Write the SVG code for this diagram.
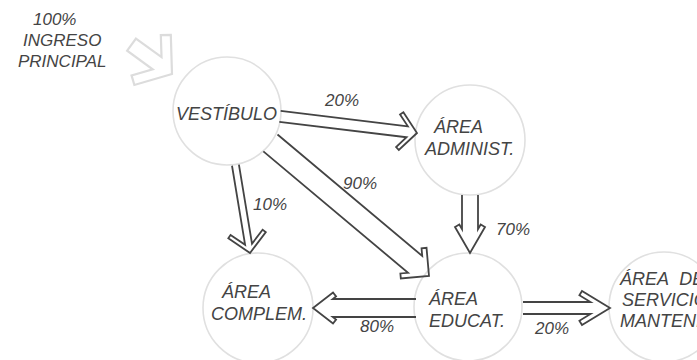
<svg xmlns="http://www.w3.org/2000/svg" width="697" height="360" viewBox="0 0 697 360">
<style>
.node{fill:#ffffff;stroke:#e0e0e0;stroke-width:1.6}
.t{font-family:"Liberation Sans",Arial,sans-serif;font-style:italic;fill:#444444;font-size:18px}
.p{font-family:"Liberation Sans",Arial,sans-serif;font-style:italic;fill:#444444;font-size:17px}
.arr{fill:none;stroke:#444444;stroke-width:1.8;stroke-linejoin:miter}
.entry{fill:none;stroke:#dcdcdc;stroke-width:2.2;stroke-linejoin:miter}
</style>
<rect width="697" height="360" fill="#ffffff"/>
<g id="vestibulo">
<circle class="node" cx="227" cy="111" r="54"/>
<text class="t" x="176" y="120">VESTÍBULO</text>
</g>
<g id="admin">
<circle class="node" cx="470" cy="140" r="55"/>
<text class="t" x="434" y="133">ÁREA</text>
<text class="t" x="425" y="155">ADMINIST.</text>
</g>
<g id="complem">
<circle class="node" cx="258" cy="308" r="55"/>
<text class="t" x="222" y="298">ÁREA</text>
<text class="t" x="211" y="320">COMPLEM.</text>
</g>
<g id="educat">
<circle class="node" cx="468" cy="307" r="54"/>
<text class="t" x="429" y="305">ÁREA</text>
<text class="t" x="429" y="327">EDUCAT.</text>
</g>
<g id="servicio">
<circle class="node" cx="664" cy="307" r="55"/>
<text class="t" x="620" y="285" word-spacing="6">ÁREA DE</text>
<text class="t" x="622" y="306">SERVICIO</text>
<text class="t" x="620" y="327">MANTENIM.</text>
</g>
<g id="ingreso">
<text class="p" x="33" y="25">100%</text>
<text class="p" x="23" y="46">INGRESO</text>
<text class="p" x="18" y="67">PRINCIPAL</text>
</g>
<g id="connectors">
<path class="entry" transform="translate(172,74) rotate(36)" d="M-50,-7.5 L-18.4,-7.5 L-31.9,-24.9 L-24,-31 L0,0 L-24,31 L-31.9,24.9 L-18.4,7.5 L-50,7.5 Z"/>
<path class="arr" transform="translate(417,133) rotate(6.9)" d="M-138,-5.5 L-9.86,-5.5 L-19.06,-16.42 L-16,-19 L0,0 L-16,19 L-19.06,16.42 L-9.86,5.5 L-138,5.5"/>
<path class="arr" transform="translate(250,253) rotate(80.6)" d="M-89,-3.5 L-8.82,-3.5 L-20.9,-16.25 L-18,-19 L0,0 L-18,19 L-20.9,16.25 L-8.82,3.5 L-89,3.5"/>
<path class="arr" transform="translate(429,276) rotate(40)" d="M-207,-11 L-18.08,-11 L-23.54,-16.46 L-20,-20 L0,0 L-20,20 L-23.54,16.46 L-18.08,11 L-207,11"/>
<path class="arr" transform="translate(470,253) rotate(90)" d="M-58,-8 L-23.87,-8 L-28.5,-10.67 L-26,-15 L0,0 L-26,15 L-28.5,10.67 L-23.87,8 L-58,8"/>
<path class="arr" transform="translate(313,308) rotate(180)" d="M-103,-9 L-19.77,-9 L-23.06,-11.55 L-20,-15.5 L0,0 L-20,15.5 L-23.06,11.55 L-19.77,9 L-103,9"/>
<path class="arr" transform="translate(610,308)" d="M-87,-6 L-19.5,-6 L-30.6,-12.73 L-28,-17 L0,0 L-28,17 L-30.6,12.73 L-19.5,6 L-87,6"/>
<text class="p" x="325" y="106">20%</text>
<text class="p" x="343" y="189">90%</text>
<text class="p" x="253" y="210">10%</text>
<text class="p" x="496" y="235">70%</text>
<text class="p" x="360" y="332">80%</text>
<text class="p" x="535" y="334">20%</text>
</g>
</svg>
